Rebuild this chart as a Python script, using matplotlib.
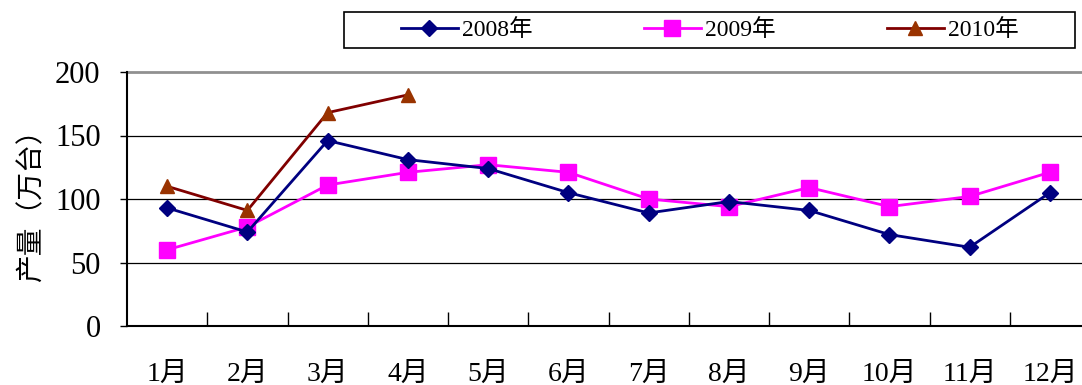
import matplotlib
matplotlib.use("Agg")
import matplotlib.pyplot as plt
from matplotlib.patches import Rectangle

plt.rcParams['font.family'] = ['Liberation Serif', 'Noto Sans CJK SC']

months = ["1月", "2月", "3月", "4月", "5月", "6月", "7月", "8月", "9月", "10月", "11月", "12月"]
y2008 = [93, 74, 146, 131, 124, 105, 89, 98, 91, 72, 62, 105]
y2009 = [60, 78, 111, 121, 127, 121, 100, 94, 109, 94, 102, 121]
y2010 = [110, 91, 168, 182]
labels = ["2008年", "2009年", "2010年"]

fig = plt.figure(figsize=(10.82, 3.85), dpi=100)
W, H = 1082, 385
ax = fig.add_axes([127 / W, 1 - 326 / H, (1090 - 127) / W, (326 - 72) / H])

x = list(range(len(months)))
ax.plot(x, y2008, color="#000080", lw=2, marker="D", ms=8, mfc="#000080", mec="#000080", label=labels[0], zorder=4)
ax.plot(x, y2009, color="#FF00FF", lw=2, marker="s", ms=12, mfc="#FF00FF", mec="#FF00FF", label=labels[1], zorder=3)
ax.plot(x[:len(y2010)], y2010, color="#800000", lw=2, marker="^", ms=10, mfc="#993300", mec="#993300", label=labels[2], zorder=5)

ax.set_xlim(-0.5, 11.5)
ax.set_ylim(0, 200)
ax.set_yticks([0, 50, 100, 150, 200])
for v in [50, 100, 150]:
    ax.axhline(v, color="black", lw=0.9, zorder=1)
ax.axhline(200, color="#909090", lw=2, zorder=1, clip_on=False)

for s in ["top", "right"]:
    ax.spines[s].set_visible(False)
ax.spines["left"].set_linewidth(1.5)
ax.spines["bottom"].set_linewidth(1.5)

ax.set_xticks([i + 0.5 for i in range(11)])
ax.set_xticklabels([])
ax.set_xticks(x, minor=True)
ax.set_xticklabels(months, minor=True, fontsize=20)
ax.tick_params(axis="x", which="major", direction="in", length=10, width=1)
ax.tick_params(axis="x", which="minor", length=0, pad=26)
ax.tick_params(axis="y", direction="out", length=5, width=1, labelsize=22, pad=14)

ax.set_ylabel("产量（万台）", fontsize=20, family=['Noto Sans CJK SC'], labelpad=6)

# legend frame drawn separately, entries centred inside
fig.patches.append(Rectangle((344 / W, 1 - 48 / H), (1075 - 344) / W, 36 / H,
                             transform=fig.transFigure, fill=False, ec="black", lw=1.2))
leg = fig.legend(loc="center", bbox_to_anchor=(710 / W, 1 - 30 / H),
                 ncol=3, fontsize=17, frameon=False,
                 handlelength=2.4, handletextpad=0.2, columnspacing=4.7)

fig.savefig("out.png", dpi=100)
